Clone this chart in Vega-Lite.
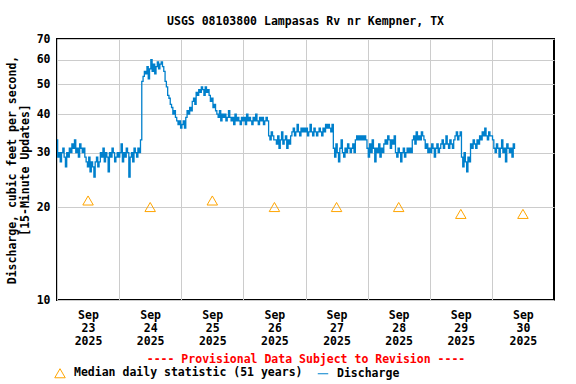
{
"$schema": "https://vega.github.io/schema/vega-lite/v6.json",
"width": 497, "height": 261,
"autosize": {"type": "none"},
"padding": {"left": 57, "top": 39, "right": 22, "bottom": 84},
"background": "white",
"title": {"text": "USGS 08103800 Lampasas Rv nr Kempner, TX", "anchor": "middle", "frame": "group", "baseline": "alphabetic", "offset": -3, "font": "DejaVu Sans Mono", "fontSize": 11.5, "fontWeight": "bold", "color": "black"},
"config": {
  "view": {"stroke": "black", "strokeWidth": 2},
  "axis": {"labelFont": "DejaVu Sans Mono", "labelFontSize": 11.5, "labelFontWeight": "bold", "labelColor": "black", "titleFont": "DejaVu Sans Mono", "titleFontSize": 11.5, "titleFontWeight": "bold", "titleColor": "black", "gridColor": "#cccccc", "gridWidth": 1, "gridOpacity": 1, "ticks": false, "domain": false},
  "legend": {"labelFont": "DejaVu Sans Mono", "labelFontSize": 11.5, "labelFontWeight": "bold", "labelColor": "black", "labelLimit": 400, "symbolStrokeWidth": 1, "symbolSize": 110, "labelOffset": 8, "columnPadding": 12, "padding": 0}
},
"datasets": {
"q": [
{"t":"2025-09-23T00:00","q":33},{"t":"2025-09-23T00:30","q":29},{"t":"2025-09-23T01:00","q":30},{"t":"2025-09-23T01:30","q":28},{"t":"2025-09-23T02:00","q":30},{"t":"2025-09-23T02:30","q":31},{"t":"2025-09-23T03:00","q":29},{"t":"2025-09-23T03:30","q":27},{"t":"2025-09-23T04:00","q":30},{"t":"2025-09-23T04:30","q":29},{"t":"2025-09-23T05:00","q":31},{"t":"2025-09-23T05:30","q":30},{"t":"2025-09-23T06:00","q":32},{"t":"2025-09-23T06:30","q":31},{"t":"2025-09-23T07:00","q":33},{"t":"2025-09-23T07:30","q":30},{"t":"2025-09-23T08:00","q":31},{"t":"2025-09-23T08:30","q":29},{"t":"2025-09-23T09:00","q":32},{"t":"2025-09-23T09:30","q":31},{"t":"2025-09-23T10:00","q":30},{"t":"2025-09-23T10:30","q":31},{"t":"2025-09-23T11:00","q":29},{"t":"2025-09-23T11:30","q":28},{"t":"2025-09-23T12:00","q":27},{"t":"2025-09-23T12:30","q":29},{"t":"2025-09-23T13:00","q":26},{"t":"2025-09-23T13:30","q":28},{"t":"2025-09-23T14:00","q":27},{"t":"2025-09-23T14:30","q":25},{"t":"2025-09-23T15:00","q":28},{"t":"2025-09-23T15:30","q":29},{"t":"2025-09-23T16:00","q":27},{"t":"2025-09-23T16:30","q":28},{"t":"2025-09-23T17:00","q":30},{"t":"2025-09-23T17:30","q":29},{"t":"2025-09-23T18:00","q":31},{"t":"2025-09-23T18:30","q":28},{"t":"2025-09-23T19:00","q":30},{"t":"2025-09-23T19:30","q":29},{"t":"2025-09-23T20:00","q":26},{"t":"2025-09-23T20:30","q":30},{"t":"2025-09-23T21:00","q":29},{"t":"2025-09-23T21:30","q":31},{"t":"2025-09-23T22:00","q":30},{"t":"2025-09-23T22:30","q":28},{"t":"2025-09-23T23:00","q":29},{"t":"2025-09-23T23:30","q":30},
{"t":"2025-09-24T00:00","q":29},{"t":"2025-09-24T00:30","q":30},{"t":"2025-09-24T01:00","q":32},{"t":"2025-09-24T01:30","q":28},{"t":"2025-09-24T02:00","q":30},{"t":"2025-09-24T02:30","q":29},{"t":"2025-09-24T03:00","q":31},{"t":"2025-09-24T03:30","q":30},{"t":"2025-09-24T04:00","q":25},{"t":"2025-09-24T04:30","q":29},{"t":"2025-09-24T05:00","q":30},{"t":"2025-09-24T05:30","q":28},{"t":"2025-09-24T06:00","q":31},{"t":"2025-09-24T06:30","q":30},{"t":"2025-09-24T07:00","q":29},{"t":"2025-09-24T07:30","q":31},{"t":"2025-09-24T08:00","q":30},{"t":"2025-09-24T08:30","q":33},{"t":"2025-09-24T09:00","q":51},{"t":"2025-09-24T09:30","q":53},{"t":"2025-09-24T10:00","q":55},{"t":"2025-09-24T10:30","q":54},{"t":"2025-09-24T11:00","q":57},{"t":"2025-09-24T11:30","q":52},{"t":"2025-09-24T12:00","q":56},{"t":"2025-09-24T12:30","q":60},{"t":"2025-09-24T13:00","q":55},{"t":"2025-09-24T13:30","q":58},{"t":"2025-09-24T14:00","q":54},{"t":"2025-09-24T14:30","q":57},{"t":"2025-09-24T15:00","q":59},{"t":"2025-09-24T15:30","q":56},{"t":"2025-09-24T16:00","q":58},{"t":"2025-09-24T16:30","q":59},{"t":"2025-09-24T17:00","q":57},{"t":"2025-09-24T17:30","q":55},{"t":"2025-09-24T18:00","q":51},{"t":"2025-09-24T18:30","q":49},{"t":"2025-09-24T19:00","q":46},{"t":"2025-09-24T19:30","q":45},{"t":"2025-09-24T20:00","q":43},{"t":"2025-09-24T20:30","q":42},{"t":"2025-09-24T21:00","q":40},{"t":"2025-09-24T21:30","q":41},{"t":"2025-09-24T22:00","q":39},{"t":"2025-09-24T22:30","q":38},{"t":"2025-09-24T23:00","q":37},{"t":"2025-09-24T23:30","q":38},
{"t":"2025-09-25T00:00","q":36},{"t":"2025-09-25T00:30","q":37},{"t":"2025-09-25T01:00","q":38},{"t":"2025-09-25T01:30","q":36},{"t":"2025-09-25T02:00","q":39},{"t":"2025-09-25T02:30","q":41},{"t":"2025-09-25T03:00","q":40},{"t":"2025-09-25T03:30","q":42},{"t":"2025-09-25T04:00","q":41},{"t":"2025-09-25T04:30","q":44},{"t":"2025-09-25T05:00","q":45},{"t":"2025-09-25T05:30","q":43},{"t":"2025-09-25T06:00","q":47},{"t":"2025-09-25T06:30","q":46},{"t":"2025-09-25T07:00","q":48},{"t":"2025-09-25T07:30","q":47},{"t":"2025-09-25T08:00","q":49},{"t":"2025-09-25T08:30","q":48},{"t":"2025-09-25T09:00","q":46},{"t":"2025-09-25T09:30","q":49},{"t":"2025-09-25T10:00","q":47},{"t":"2025-09-25T10:30","q":48},{"t":"2025-09-25T11:00","q":46},{"t":"2025-09-25T11:30","q":44},{"t":"2025-09-25T12:00","q":45},{"t":"2025-09-25T12:30","q":42},{"t":"2025-09-25T13:00","q":43},{"t":"2025-09-25T13:30","q":41},{"t":"2025-09-25T14:00","q":40},{"t":"2025-09-25T14:30","q":39},{"t":"2025-09-25T15:00","q":41},{"t":"2025-09-25T15:30","q":38},{"t":"2025-09-25T16:00","q":40},{"t":"2025-09-25T16:30","q":39},{"t":"2025-09-25T17:00","q":40},{"t":"2025-09-25T17:30","q":38},{"t":"2025-09-25T18:00","q":39},{"t":"2025-09-25T18:30","q":41},{"t":"2025-09-25T19:00","q":39},{"t":"2025-09-25T19:30","q":38},{"t":"2025-09-25T20:00","q":39},{"t":"2025-09-25T20:30","q":37},{"t":"2025-09-25T21:00","q":40},{"t":"2025-09-25T21:30","q":38},{"t":"2025-09-25T22:00","q":39},{"t":"2025-09-25T22:30","q":38},{"t":"2025-09-25T23:00","q":37},{"t":"2025-09-25T23:30","q":39},
{"t":"2025-09-26T00:00","q":38},{"t":"2025-09-26T00:30","q":39},{"t":"2025-09-26T01:00","q":37},{"t":"2025-09-26T01:30","q":40},{"t":"2025-09-26T02:00","q":38},{"t":"2025-09-26T02:30","q":39},{"t":"2025-09-26T03:00","q":38},{"t":"2025-09-26T03:30","q":37},{"t":"2025-09-26T04:00","q":39},{"t":"2025-09-26T04:30","q":38},{"t":"2025-09-26T05:00","q":40},{"t":"2025-09-26T05:30","q":38},{"t":"2025-09-26T06:00","q":37},{"t":"2025-09-26T06:30","q":39},{"t":"2025-09-26T07:00","q":38},{"t":"2025-09-26T07:30","q":39},{"t":"2025-09-26T08:00","q":37},{"t":"2025-09-26T08:30","q":38},{"t":"2025-09-26T09:00","q":39},{"t":"2025-09-26T09:30","q":38},{"t":"2025-09-26T10:00","q":34},{"t":"2025-09-26T10:30","q":33},{"t":"2025-09-26T11:00","q":35},{"t":"2025-09-26T11:30","q":34},{"t":"2025-09-26T12:00","q":33},{"t":"2025-09-26T12:30","q":33},{"t":"2025-09-26T13:00","q":32},{"t":"2025-09-26T13:30","q":34},{"t":"2025-09-26T14:00","q":31},{"t":"2025-09-26T14:30","q":33},{"t":"2025-09-26T15:00","q":35},{"t":"2025-09-26T15:30","q":32},{"t":"2025-09-26T16:00","q":33},{"t":"2025-09-26T16:30","q":34},{"t":"2025-09-26T17:00","q":31},{"t":"2025-09-26T17:30","q":33},{"t":"2025-09-26T18:00","q":32},{"t":"2025-09-26T18:30","q":34},{"t":"2025-09-26T19:00","q":35},{"t":"2025-09-26T19:30","q":36},{"t":"2025-09-26T20:00","q":34},{"t":"2025-09-26T20:30","q":35},{"t":"2025-09-26T21:00","q":37},{"t":"2025-09-26T21:30","q":35},{"t":"2025-09-26T22:00","q":34},{"t":"2025-09-26T22:30","q":36},{"t":"2025-09-26T23:00","q":35},{"t":"2025-09-26T23:30","q":36},
{"t":"2025-09-27T00:00","q":35},{"t":"2025-09-27T00:30","q":36},{"t":"2025-09-27T01:00","q":34},{"t":"2025-09-27T01:30","q":35},{"t":"2025-09-27T02:00","q":37},{"t":"2025-09-27T02:30","q":35},{"t":"2025-09-27T03:00","q":34},{"t":"2025-09-27T03:30","q":36},{"t":"2025-09-27T04:00","q":35},{"t":"2025-09-27T04:30","q":34},{"t":"2025-09-27T05:00","q":35},{"t":"2025-09-27T05:30","q":36},{"t":"2025-09-27T06:00","q":35},{"t":"2025-09-27T06:30","q":34},{"t":"2025-09-27T07:00","q":36},{"t":"2025-09-27T07:30","q":35},{"t":"2025-09-27T08:00","q":37},{"t":"2025-09-27T08:30","q":36},{"t":"2025-09-27T09:00","q":37},{"t":"2025-09-27T09:30","q":36},{"t":"2025-09-27T10:00","q":35},{"t":"2025-09-27T10:30","q":37},{"t":"2025-09-27T11:00","q":31},{"t":"2025-09-27T11:30","q":29},{"t":"2025-09-27T12:00","q":32},{"t":"2025-09-27T12:30","q":30},{"t":"2025-09-27T13:00","q":28},{"t":"2025-09-27T13:30","q":31},{"t":"2025-09-27T14:00","q":33},{"t":"2025-09-27T14:30","q":30},{"t":"2025-09-27T15:00","q":29},{"t":"2025-09-27T15:30","q":31},{"t":"2025-09-27T16:00","q":30},{"t":"2025-09-27T16:30","q":32},{"t":"2025-09-27T17:00","q":31},{"t":"2025-09-27T17:30","q":30},{"t":"2025-09-27T18:00","q":31},{"t":"2025-09-27T18:30","q":32},{"t":"2025-09-27T19:00","q":30},{"t":"2025-09-27T19:30","q":33},{"t":"2025-09-27T20:00","q":34},{"t":"2025-09-27T20:30","q":33},{"t":"2025-09-27T21:00","q":34},{"t":"2025-09-27T21:30","q":33},{"t":"2025-09-27T22:00","q":34},{"t":"2025-09-27T22:30","q":33},{"t":"2025-09-27T23:00","q":34},{"t":"2025-09-27T23:30","q":33},
{"t":"2025-09-28T00:00","q":31},{"t":"2025-09-28T00:30","q":29},{"t":"2025-09-28T01:00","q":32},{"t":"2025-09-28T01:30","q":30},{"t":"2025-09-28T02:00","q":33},{"t":"2025-09-28T02:30","q":31},{"t":"2025-09-28T03:00","q":28},{"t":"2025-09-28T03:30","q":31},{"t":"2025-09-28T04:00","q":30},{"t":"2025-09-28T04:30","q":32},{"t":"2025-09-28T05:00","q":29},{"t":"2025-09-28T05:30","q":31},{"t":"2025-09-28T06:00","q":30},{"t":"2025-09-28T06:30","q":32},{"t":"2025-09-28T07:00","q":33},{"t":"2025-09-28T07:30","q":32},{"t":"2025-09-28T08:00","q":34},{"t":"2025-09-28T08:30","q":33},{"t":"2025-09-28T09:00","q":31},{"t":"2025-09-28T09:30","q":33},{"t":"2025-09-28T10:00","q":32},{"t":"2025-09-28T10:30","q":34},{"t":"2025-09-28T11:00","q":30},{"t":"2025-09-28T11:30","q":29},{"t":"2025-09-28T12:00","q":31},{"t":"2025-09-28T12:30","q":30},{"t":"2025-09-28T13:00","q":28},{"t":"2025-09-28T13:30","q":30},{"t":"2025-09-28T14:00","q":31},{"t":"2025-09-28T14:30","q":29},{"t":"2025-09-28T15:00","q":30},{"t":"2025-09-28T15:30","q":31},{"t":"2025-09-28T16:00","q":30},{"t":"2025-09-28T16:30","q":31},{"t":"2025-09-28T17:00","q":30},{"t":"2025-09-28T17:30","q":33},{"t":"2025-09-28T18:00","q":34},{"t":"2025-09-28T18:30","q":32},{"t":"2025-09-28T19:00","q":35},{"t":"2025-09-28T19:30","q":33},{"t":"2025-09-28T20:00","q":34},{"t":"2025-09-28T20:30","q":33},{"t":"2025-09-28T21:00","q":35},{"t":"2025-09-28T21:30","q":34},{"t":"2025-09-28T22:00","q":33},{"t":"2025-09-28T22:30","q":31},{"t":"2025-09-28T23:00","q":32},{"t":"2025-09-28T23:30","q":30},
{"t":"2025-09-29T00:00","q":31},{"t":"2025-09-29T00:30","q":30},{"t":"2025-09-29T01:00","q":32},{"t":"2025-09-29T01:30","q":31},{"t":"2025-09-29T02:00","q":29},{"t":"2025-09-29T02:30","q":31},{"t":"2025-09-29T03:00","q":32},{"t":"2025-09-29T03:30","q":30},{"t":"2025-09-29T04:00","q":31},{"t":"2025-09-29T04:30","q":32},{"t":"2025-09-29T05:00","q":33},{"t":"2025-09-29T05:30","q":31},{"t":"2025-09-29T06:00","q":32},{"t":"2025-09-29T06:30","q":34},{"t":"2025-09-29T07:00","q":32},{"t":"2025-09-29T07:30","q":31},{"t":"2025-09-29T08:00","q":33},{"t":"2025-09-29T08:30","q":32},{"t":"2025-09-29T09:00","q":31},{"t":"2025-09-29T09:30","q":33},{"t":"2025-09-29T10:00","q":34},{"t":"2025-09-29T10:30","q":35},{"t":"2025-09-29T11:00","q":33},{"t":"2025-09-29T11:30","q":34},{"t":"2025-09-29T12:00","q":35},{"t":"2025-09-29T12:30","q":29},{"t":"2025-09-29T13:00","q":27},{"t":"2025-09-29T13:30","q":30},{"t":"2025-09-29T14:00","q":28},{"t":"2025-09-29T14:30","q":26},{"t":"2025-09-29T15:00","q":29},{"t":"2025-09-29T15:30","q":28},{"t":"2025-09-29T16:00","q":32},{"t":"2025-09-29T16:30","q":31},{"t":"2025-09-29T17:00","q":33},{"t":"2025-09-29T17:30","q":32},{"t":"2025-09-29T18:00","q":31},{"t":"2025-09-29T18:30","q":33},{"t":"2025-09-29T19:00","q":32},{"t":"2025-09-29T19:30","q":34},{"t":"2025-09-29T20:00","q":33},{"t":"2025-09-29T20:30","q":35},{"t":"2025-09-29T21:00","q":34},{"t":"2025-09-29T21:30","q":36},{"t":"2025-09-29T22:00","q":34},{"t":"2025-09-29T22:30","q":33},{"t":"2025-09-29T23:00","q":35},{"t":"2025-09-29T23:30","q":34},
{"t":"2025-09-30T00:00","q":34},{"t":"2025-09-30T00:30","q":33},{"t":"2025-09-30T01:00","q":31},{"t":"2025-09-30T01:30","q":30},{"t":"2025-09-30T02:00","q":32},{"t":"2025-09-30T02:30","q":31},{"t":"2025-09-30T03:00","q":29},{"t":"2025-09-30T03:30","q":31},{"t":"2025-09-30T04:00","q":33},{"t":"2025-09-30T04:30","q":30},{"t":"2025-09-30T05:00","q":31},{"t":"2025-09-30T05:30","q":28},{"t":"2025-09-30T06:00","q":32},{"t":"2025-09-30T06:30","q":31},{"t":"2025-09-30T07:00","q":30},{"t":"2025-09-30T07:30","q":31},{"t":"2025-09-30T08:00","q":29},{"t":"2025-09-30T08:30","q":32},{"t":"2025-09-30T09:00","q":31}
],
"m": [
{"t":"2025-09-23T12:00","q":21},{"t":"2025-09-24T12:00","q":20},{"t":"2025-09-25T12:00","q":21},{"t":"2025-09-26T12:00","q":20},{"t":"2025-09-27T12:00","q":20},{"t":"2025-09-28T12:00","q":20},{"t":"2025-09-29T12:00","q":19},{"t":"2025-09-30T12:00","q":19}
]
},
"encoding": {
  "x": {"field": "t", "type": "temporal",
    "scale": {"domain": [{"year": 2025, "month": 9, "date": 23}, {"year": 2025, "month": 10, "date": 1}]},
    "axis": {"values": [{"year": 2025, "month": 9, "date": 23}, {"year": 2025, "month": 9, "date": 24}, {"year": 2025, "month": 9, "date": 25}, {"year": 2025, "month": 9, "date": 26}, {"year": 2025, "month": 9, "date": 27}, {"year": 2025, "month": 9, "date": 28}, {"year": 2025, "month": 9, "date": 29}, {"year": 2025, "month": 9, "date": 30}],
      "grid": true, "labelExpr": "[timeFormat(datum.value, '%b'), timeFormat(datum.value, '%d'), timeFormat(datum.value, '%Y')]",
      "labelOffset": 31, "labelPadding": 9, "labelLineHeight": 13, "labelOverlap": false, "labelFlush": false, "labelBound": false, "labelAlign": "center",
      "title": "---- Provisional Data Subject to Revision ----", "titleColor": "#ff0000", "titleY": 53, "titleBaseline": "top"}},
  "y": {"field": "q", "type": "quantitative",
    "scale": {"type": "log", "domain": [10, 70], "nice": false},
    "axis": {"values": [10, 20, 30, 40, 50, 60, 70], "grid": true, "labelPadding": 7,
      "title": ["Discharge, cubic feet per second,", "[15-Minute Updates]"], "titleX": -40, "titleY": 130.5}}
},
"layer": [
  {"data": {"name": "q"},
   "mark": {"type": "line", "strokeWidth": 1.3, "interpolate": "step"},
   "encoding": {"color": {"datum": "Discharge", "type": "nominal",
      "scale": {"domain": ["Median daily statistic (51 years)", "Discharge"], "range": ["#ffa500", "#0080cc"]},
      "legend": {"orient": "none", "legendX": -3, "legendY": 328, "direction": "horizontal", "title": null}}}},
  {"data": {"name": "m"},
   "mark": {"type": "point", "filled": false, "size": 110, "strokeWidth": 1, "opacity": 1},
   "encoding": {"color": {"datum": "Median daily statistic (51 years)", "type": "nominal",
      "legend": {"orient": "none", "legendX": -3, "legendY": 328, "direction": "horizontal", "title": null}},
     "shape": {"datum": "Median daily statistic (51 years)", "type": "nominal",
      "scale": {"domain": ["Median daily statistic (51 years)", "Discharge"], "range": ["triangle-up", "stroke"]},
      "legend": {"orient": "none", "legendX": -3, "legendY": 328, "direction": "horizontal", "title": null}}}}
]
}
